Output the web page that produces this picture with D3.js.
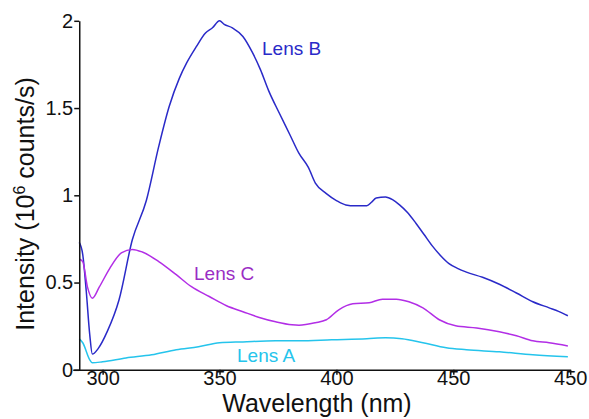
<!DOCTYPE html>
<html><head><meta charset="utf-8">
<script src="https://cdn.jsdelivr.net/npm/d3@7"></script>
<style>body{margin:0;background:#fff}svg{display:block}text{font-family:"Liberation Sans",Arial,sans-serif}</style>
</head><body><svg id="c" width="589" height="419"></svg>
<script>
const xTicks = [300, 350, 400, 450, 500];
const xTickLabels = ["300", "350", "400", "450", "450"];
const yTicks = [0, 0.5, 1, 1.5, 2];
const yTickLabels = ["0", "0.5", "1", "1.5", "2"];

const lensB = [[290,0.73],[291.5,0.66],[293,0.45],[294.5,0.2],[295.6,0.09],[298,0.12],[302,0.22],[307,0.40],[312.7,0.745],[318.7,0.97],[324,1.28],[328.5,1.51],[332.8,1.67],[336,1.76],[340,1.85],[344,1.93],[347,1.96],[350,2.0],[352,1.98],[355.5,1.96],[360,1.91],[364,1.82],[367.5,1.72],[371,1.60],[375.6,1.47],[380,1.35],[384,1.24],[388,1.16],[391,1.07],[395.7,1.01],[400,0.97],[404,0.945],[408,0.94],[413,0.94],[415,0.96],[417,0.985],[421,0.99],[424,0.975],[427,0.945],[430.5,0.90],[434,0.84],[437.5,0.775],[441,0.71],[444.5,0.655],[448,0.61],[452,0.58],[455.6,0.56],[462.5,0.53],[469.7,0.49],[477,0.44],[484,0.39],[491,0.355],[495,0.335],[499,0.31]];
const lensC = [[290,0.635],[291.5,0.62],[293.5,0.475],[295.6,0.41],[298.6,0.475],[303,0.58],[308,0.67],[312.7,0.69],[317,0.675],[324,0.62],[331.5,0.545],[338,0.476],[345.6,0.42],[353,0.367],[360,0.333],[367,0.30],[374,0.275],[381,0.258],[384,0.256],[391,0.27],[395.7,0.287],[401,0.344],[407,0.378],[414,0.384],[419.7,0.405],[425.6,0.405],[431,0.39],[437,0.355],[444,0.287],[451,0.252],[460,0.24],[469.7,0.218],[477,0.195],[484,0.166],[491,0.155],[499,0.137]];
const lensA = [[290,0.177],[291.5,0.155],[294.5,0.057],[295.6,0.04],[300,0.046],[310,0.068],[321,0.086],[331.5,0.115],[341,0.132],[350,0.155],[360,0.16],[374,0.166],[384,0.166],[398,0.172],[413,0.178],[421,0.183],[428,0.178],[437,0.155],[447,0.126],[455.6,0.115],[469.7,0.103],[484,0.086],[499,0.075]];

const series = [
  {name:"Lens B", data:lensB, color:"#2a2ac8", label:[262,48]},
  {name:"Lens C", data:lensC, color:"#b22ee6", label:[194,273], textColor:"#9a2cc4"},
  {name:"Lens A", data:lensA, color:"#25c4ec", label:[237,355]}
];

const svg = d3.select("#c");
const x = d3.scaleLinear().domain([287.2, 500]).range([72.7, 570.2]);
const y = d3.scaleLinear().domain([0, 2]).range([369.8, 20.8]);

const line = d3.line().x(d => x(d[0])).y(d => y(d[1])).curve(d3.curveMonotoneX);
series.forEach(s => {
  svg.append("path").datum(s.data).attr("d", line)
    .attr("fill","none").attr("stroke", s.color).attr("stroke-width",1.5).attr("stroke-linejoin","round");
  svg.append("text").attr("x", s.label[0]).attr("y", s.label[1]).attr("dy","0.35em")
    .attr("font-size", 19).attr("fill", s.textColor || s.color).text(s.name);
});

const xAxis = svg.append("g").attr("transform", `translate(0,${y(0)})`)
  .call(d3.axisBottom(x).tickValues(xTicks).tickFormat((d,i) => xTickLabels[i]).tickSize(5).tickSizeOuter(0));
xAxis.selectAll("text").attr("font-size", 20).attr("fill","#111").attr("dy","0.62em").attr("y",3);
const yAxis = svg.append("g").attr("transform", `translate(${x(290)},0)`)
  .call(d3.axisLeft(y).tickValues(yTicks).tickFormat((d,i) => yTickLabels[i]).tickSize(5).tickSizeOuter(0));
yAxis.selectAll("text").attr("font-size", 20).attr("fill","#111").attr("x",-6);
svg.selectAll(".domain, .tick line").attr("stroke","#111").attr("stroke-width",1.5);
svg.selectAll(".tick text").attr("font-family",'"Liberation Sans",Arial,sans-serif');

svg.append("text").attr("x", 317).attr("y", 412).attr("text-anchor","middle")
  .attr("font-size", 25).attr("fill","#111").text("Wavelength (nm)");
const yt = svg.append("text").attr("transform","translate(34,204) rotate(-90)").attr("text-anchor","middle")
  .attr("font-size", 25).attr("fill","#111");
yt.append("tspan").text("Intensity (10");
yt.append("tspan").attr("dy",-9).attr("font-size",16).text("6");
yt.append("tspan").attr("dy",9).text(" counts/s)");
</script></body></html>
